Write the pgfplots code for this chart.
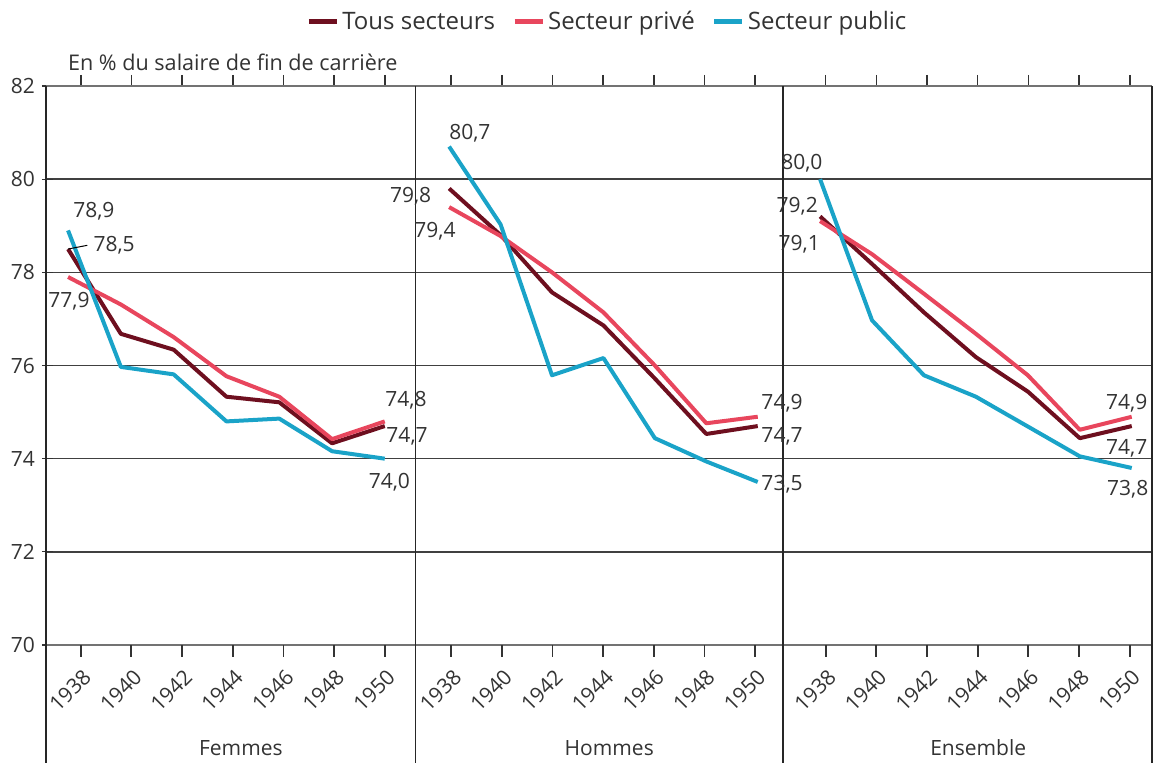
\documentclass[border=0pt]{standalone}
\usepackage{fontspec}
\setmainfont{Open Sans}
\usepackage{pgfplots}
\pgfplotsset{compat=1.18}
\definecolor{tous}{HTML}{6E0F1F}
\definecolor{prive}{HTML}{E8465D}
\definecolor{public}{HTML}{1AA3C8}
\definecolor{txt}{HTML}{333333}
\begin{document}
\begin{tikzpicture}[font=\fontsize{10.5}{12}\selectfont]
\useasboundingbox (-23pt,-58.5pt) rectangle (554pt,322.5pt);
\begin{axis}[
  at={(0,0)}, anchor=south west,
  scale only axis, width=553pt, height=279.5pt,
  xmin=-0.685, xmax=21.14, ymin=70, ymax=82,
  ytick={70,72,...,82},
  ymajorgrids, grid style={draw=black!75, line width=0.7pt},
  axis line style={draw=none},
  clip=false,
  unbounded coords=jump,
  xtick={0,1,2,3,4,5,6,7.31,8.31,9.31,10.31,11.31,12.31,13.31,14.70,15.70,16.70,17.70,18.70,19.70,20.70},
  xticklabels={1938,1940,1942,1944,1946,1948,1950,1938,1940,1942,1944,1946,1948,1950,1938,1940,1942,1944,1946,1948,1950},
  tick align=outside,
  major tick length=5.5pt,
  xtick style={draw=black!80, line width=0.8pt},
  ytick style={draw=black!80, line width=0.6pt, xshift=3.5pt},
  xticklabel style={anchor=east, xshift=4pt, yshift=-8pt, rotate=45, inner sep=1pt, text=txt},
  yticklabel style={text=txt, xshift=3.5pt},
  /pgf/number format/assume math mode=true,
  legend style={at={(0.508,1.1145)}, anchor=center, draw=none, fill=none,
    legend columns=3, text=txt, font=\fontsize{12}{14}\selectfont,
    /tikz/every odd column/.style={column sep=0pt},
    /tikz/every even column/.style={column sep=7pt},
    nodes={inner sep=1.5pt}},
  legend image code/.code={\draw[#1, line width=2.5pt] (0pt,0pt) -- (14pt,0pt);},
]
\addplot[tous, line width=2pt, line join=round] coordinates {
 (-0.25,78.5) (0.792,76.68) (1.834,76.34) (2.876,75.33) (3.918,75.21) (4.96,74.33) (6.0,74.7)
 (6.6,nan)
 (7.27,79.8) (8.285,78.8) (9.30,77.57) (10.315,76.86) (11.33,75.72) (12.345,74.53) (13.36,74.7)
 (13.9,nan)
 (14.59,79.2) (15.615,78.18) (16.64,77.14) (17.665,76.18) (18.69,75.44) (19.715,74.44) (20.74,74.7)
};
\addlegendentry{Tous secteurs}
\addplot[prive, line width=2pt, line join=round] coordinates {
 (-0.25,77.9) (0.792,77.31) (1.834,76.61) (2.876,75.77) (3.918,75.33) (4.96,74.42) (6.0,74.8)
 (6.6,nan)
 (7.27,79.4) (8.285,78.78) (9.30,78.0) (10.315,77.14) (11.33,76.0) (12.345,74.76) (13.36,74.9)
 (13.9,nan)
 (14.59,79.1) (15.615,78.39) (16.64,77.54) (17.665,76.68) (18.69,75.79) (19.715,74.62) (20.74,74.9)
};
\addlegendentry{Secteur privé}
\addplot[public, line width=2pt, line join=round] coordinates {
 (-0.25,78.9) (0.792,75.97) (1.834,75.81) (2.876,74.80) (3.918,74.86) (4.96,74.16) (6.0,74.0)
 (6.6,nan)
 (7.27,80.7) (8.285,79.03) (9.30,75.79) (10.315,76.16) (11.33,74.44) (12.345,73.94) (13.36,73.5)
 (13.9,nan)
 (14.59,80.0) (15.615,76.97) (16.64,75.79) (17.665,75.33) (18.69,74.69) (19.715,74.05) (20.74,73.8)
};
\addlegendentry{Secteur public}
% frame lines
\draw[black!55, line width=1.3pt] (axis cs:-0.685,82) -- (axis cs:21.14,82);
\draw[black!55, line width=1.3pt] (axis cs:-0.685,70) -- (axis cs:21.14,70);
\draw[black!85, line width=0.6pt] (axis cs:-0.685,82) -- ([yshift=-60pt]axis cs:-0.685,70);
\draw[black!85, line width=0.6pt] (axis cs:6.6,82) -- ([yshift=-60pt]axis cs:6.6,70);
\draw[black!85, line width=0.6pt] (axis cs:13.86,82) -- ([yshift=-60pt]axis cs:13.86,70);
\draw[black!85, line width=0.6pt] (axis cs:21.14,82) -- ([yshift=-60pt]axis cs:21.14,70);
% x tick marks
\draw[black!80, line width=0.9pt]
  (axis cs:0,70) -- (axis cs:0,69.75)
  (axis cs:1,70) -- (axis cs:1,69.75)
  (axis cs:2,70) -- (axis cs:2,69.75)
  (axis cs:3,70) -- (axis cs:3,69.75)
  (axis cs:4,70) -- (axis cs:4,69.75)
  (axis cs:5,70) -- (axis cs:5,69.75)
  (axis cs:6,70) -- (axis cs:6,69.75)
  (axis cs:7.31,70) -- (axis cs:7.31,69.75)
  (axis cs:8.31,70) -- (axis cs:8.31,69.75)
  (axis cs:9.31,70) -- (axis cs:9.31,69.75)
  (axis cs:10.31,70) -- (axis cs:10.31,69.75)
  (axis cs:11.31,70) -- (axis cs:11.31,69.75)
  (axis cs:12.31,70) -- (axis cs:12.31,69.75)
  (axis cs:13.31,70) -- (axis cs:13.31,69.75)
  (axis cs:14.70,70) -- (axis cs:14.70,69.75)
  (axis cs:15.70,70) -- (axis cs:15.70,69.75)
  (axis cs:16.70,70) -- (axis cs:16.70,69.75)
  (axis cs:17.70,70) -- (axis cs:17.70,69.75)
  (axis cs:18.70,70) -- (axis cs:18.70,69.75)
  (axis cs:19.70,70) -- (axis cs:19.70,69.75)
  (axis cs:20.70,70) -- (axis cs:20.70,69.75);
% group labels
\node[text=txt] at ([yshift=-51.5pt]axis cs:3.16,70) {Femmes};
\node[text=txt] at ([yshift=-51.5pt]axis cs:10.43,70) {Hommes};
\node[text=txt] at ([yshift=-51.5pt]axis cs:17.71,70) {Ensemble};
% axis title
\node[anchor=west, text=txt, font=\fontsize{10.8}{12}\selectfont] at ([xshift=7.5pt,yshift=12pt]rel axis cs:0,1) {En \% du salaire de fin de carrière};
% data labels
\node[text=txt, inner sep=0pt] at (axis cs:0.26,79.31) {78,9};
\draw[black, line width=0.5pt] (axis cs:-0.25,78.5) -- (axis cs:0.13,78.58);
\node[text=txt, inner sep=0pt] at (axis cs:0.66,78.59) {78,5};
\node[text=txt, inner sep=0pt] at (axis cs:-0.23,77.39) {77,9};
\node[text=txt, inner sep=0pt] at (axis cs:6.42,75.26) {74,8};
\node[text=txt, inner sep=0pt] at (axis cs:6.44,74.48) {74,7};
\node[text=txt, inner sep=0pt] at (axis cs:6.09,73.49) {74,0};
\node[text=txt, inner sep=0pt] at (axis cs:7.68,80.99) {80,7};
\node[text=txt, inner sep=0pt] at (axis cs:6.51,79.64) {79,8};
\node[text=txt, inner sep=0pt] at (axis cs:6.99,78.89) {79,4};
\node[text=txt, inner sep=0pt] at (axis cs:13.84,75.19) {74,9};
\node[text=txt, inner sep=0pt] at (axis cs:13.84,74.47) {74,7};
\node[text=txt, inner sep=0pt] at (axis cs:13.84,73.45) {73,5};
\node[text=txt, inner sep=0pt] at (axis cs:14.23,80.35) {80,0};
\node[text=txt, inner sep=0pt] at (axis cs:14.14,79.42) {79,2};
\node[text=txt, inner sep=0pt] at (axis cs:14.18,78.60) {79,1};
\node[text=txt, inner sep=0pt] at (axis cs:20.64,75.19) {74,9};
\node[text=txt, inner sep=0pt] at (axis cs:20.64,74.23) {74,7};
\node[text=txt, inner sep=0pt] at (axis cs:20.66,73.34) {73,8};
\end{axis}
\end{tikzpicture}
\end{document}
